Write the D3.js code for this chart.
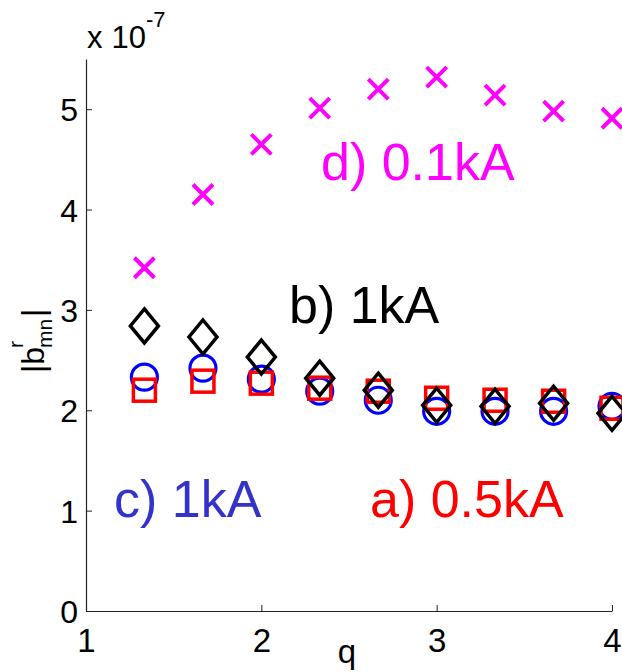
<!DOCTYPE html>
<html>
<head>
<meta charset="utf-8">
<script src="https://cdn.jsdelivr.net/npm/d3@7"></script>
<style>
  html, body { margin: 0; padding: 0; background: #fff; }
  svg { display: block; }
  text { font-family: "Liberation Sans", Arial, Helvetica, sans-serif; }
</style>
</head>
<body>
<svg id="chart" width="622" height="672"></svg>
<script>
// Safety factor q at which the resonant field amplitude was evaluated
const qValues = [1.333, 1.667, 2, 2.333, 2.667, 3, 3.333, 3.667, 4];

// |b^r_mn| in units of 1e-7, one array per coil current case
const caseA_05kA = [2.20, 2.29, 2.27, 2.22, 2.19, 2.12, 2.10, 2.09, 2.02]; // red squares
const caseB_1kA  = [2.84, 2.73, 2.53, 2.32, 2.20, 2.05, 2.04, 2.07, 1.97]; // black diamonds
const caseC_1kA  = [2.33, 2.42, 2.31, 2.19, 2.10, 1.99, 1.99, 1.99, 2.04]; // blue circles
const caseD_01kA = [3.42, 4.15, 4.65, 5.01, 5.20, 5.32, 5.14, 4.98, 4.91]; // magenta crosses

const xTicks = [1, 2, 3, 4];
const yTicks = [0, 1, 2, 3, 4, 5];

const svg = d3.select("#chart");

const x = d3.scaleLinear().domain([1, 4]).range([86, 612]);
const y = d3.scaleLinear().domain([0, 5.5]).range([611, 59]);

// Axes: ticks pointing into the plot, no box
const xAxis = d3.axisBottom(x).tickValues(xTicks).tickSizeInner(-6).tickSizeOuter(0).tickFormat(d3.format("d"));
const yAxis = d3.axisLeft(y).tickValues(yTicks).tickSizeInner(-6).tickSizeOuter(0).tickFormat(d3.format("d"));

const gx = svg.append("g").attr("transform", `translate(0,${y(0)})`).call(xAxis);
gx.select(".domain").attr("stroke", "#222").attr("stroke-width", 1.2);
gx.selectAll(".tick line").attr("stroke", "#222");
gx.selectAll(".tick text")
  .attr("y", 41).attr("dy", 0)
  .attr("font-size", 33).attr("fill", "#000")
  .attr("font-family", "Liberation Sans, Arial, sans-serif");

const gy = svg.append("g").attr("transform", `translate(${x(1)},0)`).call(yAxis);
gy.select(".domain").attr("stroke", "#222").attr("stroke-width", 1.2);
gy.selectAll(".tick line").attr("stroke", "#222");
gy.selectAll(".tick text")
  .attr("x", -8).attr("dy", "0.36em")
  .attr("font-size", 32).attr("fill", "#000")
  .attr("font-family", "Liberation Sans, Arial, sans-serif");

// Exponent multiplier above the y axis
const expo = svg.append("text").attr("x", 87).attr("y", 48).attr("font-size", 31).attr("fill", "#000");
expo.append("tspan").text("x");
expo.append("tspan").attr("dx", 9).text("10");
expo.append("tspan").attr("dy", -21).attr("font-size", 22).text("-7");

// Axis titles
svg.append("text").attr("x", 347).attr("y", 663).attr("text-anchor", "middle")
  .attr("font-size", 33).attr("fill", "#000").text("q");

const yl = svg.append("g").attr("transform", "translate(44,373) rotate(-90)");
yl.append("text").attr("x", 0).attr("y", 0).attr("font-size", 32).attr("fill", "#000").text("|b");
yl.append("text").attr("x", 25).attr("y", -21).attr("font-size", 21).attr("fill", "#000").text("r");
yl.append("text").attr("x", 25).attr("y", 8).attr("font-size", 21).attr("fill", "#000").text("mn");
yl.append("text").attr("x", 56).attr("y", 0).attr("font-size", 32).attr("fill", "#000").text("|");

const plot = svg.append("g");
const zip = (vals) => qValues.map((q, i) => ({ q, v: vals[i] }));

// c) 1kA : blue circles
plot.append("g").selectAll("circle").data(zip(caseC_1kA)).join("circle")
  .attr("cx", d => x(d.q)).attr("cy", d => y(d.v)).attr("r", 13)
  .attr("fill", "none").attr("stroke", "#0000ff").attr("stroke-width", 3.2);

// a) 0.5kA : red squares
const sq = 22;
plot.append("g").selectAll("rect").data(zip(caseA_05kA)).join("rect")
  .attr("x", d => x(d.q) - sq / 2).attr("y", d => y(d.v) - sq / 2)
  .attr("width", sq).attr("height", sq)
  .attr("fill", "none").attr("stroke", "#ff0000").attr("stroke-width", 3.5);

// b) 1kA : black diamonds
const dw = 14, dh = 17;
plot.append("g").selectAll("path").data(zip(caseB_1kA)).join("path")
  .attr("d", d => {
    const cx = x(d.q), cy = y(d.v);
    return `M${cx},${cy - dh}L${cx + dw},${cy}L${cx},${cy + dh}L${cx - dw},${cy}Z`;
  })
  .attr("fill", "none").attr("stroke", "#000").attr("stroke-width", 3.5)
  .attr("stroke-linejoin", "miter");

// d) 0.1kA : magenta crosses
const cs = 10;
plot.append("g").selectAll("path").data(zip(caseD_01kA)).join("path")
  .attr("d", d => {
    const cx = x(d.q), cy = y(d.v);
    return `M${cx - cs},${cy - cs}L${cx + cs},${cy + cs}M${cx - cs},${cy + cs}L${cx + cs},${cy - cs}`;
  })
  .attr("fill", "none").attr("stroke", "#ff00ff").attr("stroke-width", 4);

// Case annotations
const notes = [
  { text: "d) 0.1kA", x: 321, y: 180, color: "#ff00ff" },
  { text: "b) 1kA",   x: 289, y: 323, color: "#000000" },
  { text: "c) 1kA",   x: 114, y: 517, color: "#3333cc" },
  { text: "a) 0.5kA", x: 370, y: 517, color: "#ff0000" }
];
svg.append("g").selectAll("text").data(notes).join("text")
  .attr("x", d => d.x).attr("y", d => d.y)
  .attr("font-size", 52).attr("fill", d => d.color)
  .text(d => d.text);
</script>
</body>
</html>
